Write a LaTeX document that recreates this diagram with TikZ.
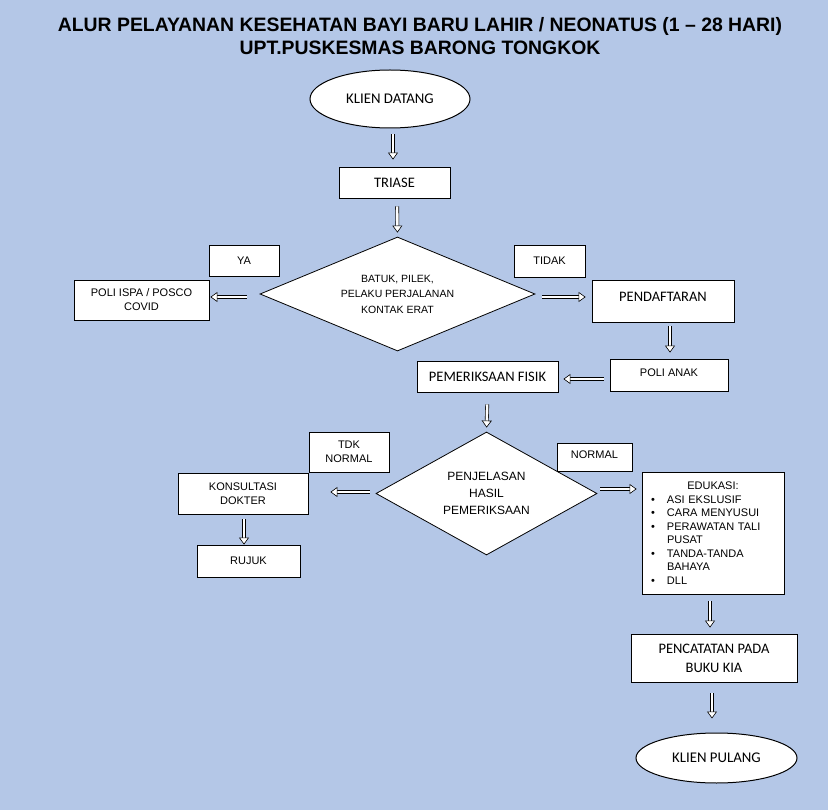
\documentclass[tikz,border=0pt]{standalone}
\usepackage{fontspec}
\setmainfont{Liberation Sans}
\newfontfamily\calfont{Carlito}
\usetikzlibrary{shapes.geometric,arrows.meta,calc}
\definecolor{bgblue}{HTML}{B4C7E7}
\newcommand{\edupt}[1]{\par\hyphenpenalty=10000\exhyphenpenalty=10000\hangindent=21pt\hangafter=1\noindent\makebox[21pt][l]{\hspace{5pt}\textbullet}#1}
\begin{document}
\begin{tikzpicture}[x=1pt,y=-1pt,
  box/.style={draw,fill=white,line width=0.8pt,align=center,inner sep=4pt,font=\fontsize{11}{14}\selectfont},
  oval/.style={draw,fill=white,ellipse,line width=1pt,font=\calfont\fontsize{14.8}{18}\selectfont},
  decide/.style={draw,fill=white,diamond,line width=0.8pt,align=center,inner sep=0pt},
  flow/.style={double=white,double distance=2.6pt,line width=0.6pt,-{Triangle[length=7pt,width=10pt,fill=white]}}]
  \fill[bgblue] (0,0) rectangle (828,810);
  \useasboundingbox (0,0) rectangle (828,810);
  \node[align=center,font=\bfseries\fontsize{19.4}{23}\selectfont] (title) at (420,36)
    {ALUR PELAYANAN KESEHATAN BAYI BARU LAHIR / NEONATUS (1 -- 28 HARI)\\UPT.PUSKESMAS BARONG TONGKOK};
  \node[oval,minimum width=160,minimum height=58] (start) at (390,99) {KLIEN DATANG};
  \node[box,font=\calfont\fontsize{14.5}{18}\selectfont,minimum width=111,minimum height=31] (triase) at (394.5,182.5) {TRIASE};
  \node[decide,aspect=2.4,minimum width=275,minimum height=114,font=\fontsize{10.5}{15.5}\selectfont] (dia1) at (397.5,294)
    {BATUK, PILEK,\\PELAKU PERJALANAN\\KONTAK ERAT};
  \node[box,minimum width=70,minimum height=31] (ya) at (244,260.5) {YA};
  \node[box,minimum width=135,minimum height=40] (ispa) at (141.5,300) {POLI ISPA / POSCO\\COVID};
  \node[box,minimum width=71,minimum height=32] (tidak) at (549.5,261) {TIDAK};
  \node[box,font=\calfont\fontsize{14.5}{18}\selectfont,minimum width=142,minimum height=42,text depth=8pt] (daftar) at (663,301) {PENDAFTARAN};
  \node[box,minimum width=118,minimum height=32,text depth=5pt] (anak) at (669,375) {POLI ANAK};
  \node[box,font=\calfont\fontsize{14.5}{18}\selectfont,minimum width=141,minimum height=31] (fisik) at (487.5,376.5) {PEMERIKSAAN FISIK};
  \node[decide,aspect=1.8,minimum width=221,minimum height=123,font=\fontsize{12}{17}\selectfont] (dia2) at (486.5,493.5)
    {PENJELASAN\\HASIL\\PEMERIKSAAN};
  \node[box,minimum width=80,minimum height=40] (tdk) at (349,452) {TDK\\NORMAL};
  \node[box,minimum width=130,minimum height=41] (konsul) at (243,493.5) {KONSULTASI\\DOKTER};
  \node[box,minimum width=103,minimum height=32] (rujuk) at (248.5,561) {RUJUK};
  \node[box,minimum width=75,minimum height=28,text depth=5pt] (normal) at (594.5,457) {NORMAL};
  \node[box,align=left,text width=134pt,minimum height=122,font=\fontsize{11}{13.5}\selectfont] (edu) at (713,533)
    {{\centering EDUKASI:\par}\edupt{ASI EKSLUSIF}\edupt{CARA MENYUSUI}\edupt{PERAWATAN TALI PUSAT}\edupt{TANDA-TANDA BAHAYA}\edupt{DLL}};
  \node[box,font=\calfont\fontsize{14.5}{19}\selectfont,minimum width=166,minimum height=48] (catat) at (714,658) {PENCATATAN PADA\\BUKU KIA};
  \node[oval,minimum width=161,minimum height=50] (finish) at (716.5,758) {KLIEN PULANG};
  \draw[flow,shorten <=6,shorten >=7] ([xshift=3pt]start.south) -- ([xshift=-1.5pt]triase.north);
  \draw[flow,shorten <=8,shorten >=4] ([xshift=2.5pt]triase.south) -- (dia1.north);
  \draw[flow,shorten <=13,shorten >=1] ([yshift=-3pt]dia1.west) -- ([yshift=3pt]ispa.east);
  \draw[flow,shorten <=7,shorten >=6] ([yshift=-3pt]dia1.east) -- ([yshift=4pt]daftar.west);
  \draw[flow,shorten <=4,shorten >=6] ([xshift=7pt]daftar.south) -- ([xshift=1pt]anak.north);
  \draw[flow,shorten <=6,shorten >=5] ([yshift=-4pt]anak.west) -- ([yshift=-2.5pt]fisik.east);
  \draw[flow,shorten <=12,shorten >=4] (fisik.south) -- (dia2.north);
  \draw[flow,shorten <=6,shorten >=22] ([yshift=1.5pt]dia2.west) -- ([yshift=1.5pt]konsul.east);
  \draw[flow,shorten <=5] ([xshift=1pt]konsul.south) -- ([xshift=-4.5pt]rujuk.north);
  \draw[flow,shorten <=3,shorten >=5] ([yshift=4.5pt]dia2.east) -- ($(dia2.east -| edu.west)+(0,-4.5)$);
  \draw[flow,shorten <=7,shorten >=6] ([xshift=-3pt]edu.south) -- ([xshift=-4pt]catat.north);
  \draw[flow,shorten <=11,shorten >=14] ([xshift=-2pt]catat.south) -- ([xshift=-4.5pt]finish.north);
\end{tikzpicture}
\end{document}
